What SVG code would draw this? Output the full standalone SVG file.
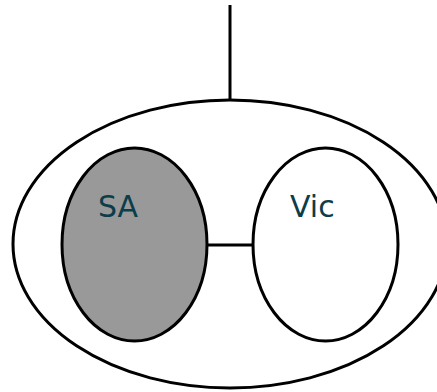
<svg xmlns="http://www.w3.org/2000/svg" width="437" height="392" viewBox="0 0 437 392">
<style>
.shape{stroke:#000;stroke-width:3}
.lbl{font-family:"DejaVu Sans",sans-serif;font-size:30px;fill:#0b3d4b}
.conn{stroke:#000;stroke-width:3;fill:none}
</style>
<rect width="437" height="392" fill="#fff"/>
<g id="outer">
<ellipse class="shape" cx="230" cy="244" rx="217" ry="144" fill="#fff"/>
</g>
<g id="connectors">
<line class="conn" x1="230" y1="5" x2="230" y2="100"/>
<line class="conn" x1="207" y1="245" x2="253" y2="245"/>
</g>
<g id="SA">
<ellipse class="shape" cx="134.5" cy="244.5" rx="72.5" ry="96.5" fill="#999"/>
<text class="lbl" x="98" y="217">SA</text>
</g>
<g id="Vic">
<ellipse class="shape" cx="325.5" cy="244.5" rx="72.5" ry="96.5" fill="#fff"/>
<text class="lbl" x="290" y="217">Vic</text>
</g>
</svg>
